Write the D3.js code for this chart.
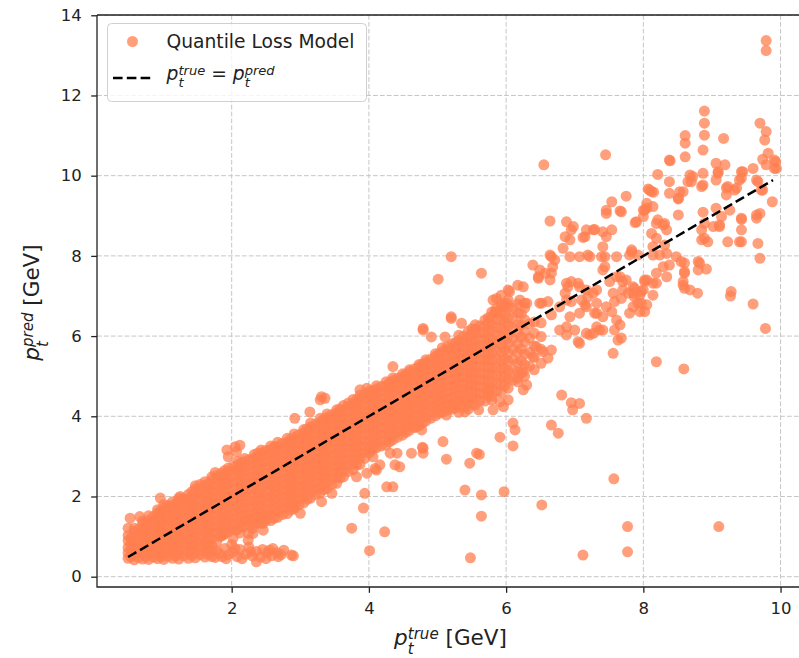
<!DOCTYPE html>
<meta charset="utf-8">

<!-- Load d3.js -->
<script src="https://d3js.org/d3.v7.min.js"></script>

<style>
  body { margin: 0; background: #fff; }
</style>

<!-- Create a div where the graph will take place -->
<div id="my_dataviz"></div>

<script>
    // ---- values: [p_t true, p_t pred] in GeV ----
    var xTicks = [2, 4, 6, 8, 10];
    var yTicks = [0, 2, 4, 6, 8, 10, 12, 14];
    var diagEnds = [0.49, 9.89];   // p_t^true = p_t^pred reference line

    // dense core of the scatter, one column per true-p_t slice: [x, [pred values]]
    var bandColumns = [
      [0.49, [0.46,0.6,0.73,0.9,1.03]],
      [0.58, [0.42,0.55,0.71,0.84,0.99,1.12,1.21]],
      [0.70, [0.44,0.58,0.7,0.87,1.01,1.14,1.3,1.39]],
      [0.79, [0.43,0.56,0.72,0.85,0.98,1.15,1.27,1.41,1.52]],
      [0.92, [0.45,0.57,0.74,0.87,1.03,1.16,1.32,1.45,1.59,1.67]],
      [1.01, [0.43,0.58,0.7,0.86,1.01,1.13,1.3,1.43,1.58,1.71,1.8]],
      [1.14, [0.46,0.59,0.75,0.88,1.05,1.17,1.34,1.47,1.63,1.76,1.87]],
      [1.23, [0.44,0.57,0.73,0.86,1.03,1.15,1.32,1.45,1.61,1.74,1.88,1.96]],
      [1.37, [0.46,0.62,0.75,0.91,1.04,1.21,1.33,1.5,1.63,1.79,1.92,2.05]],
      [1.47, [0.47,0.6,0.76,0.89,1.05,1.18,1.35,1.47,1.64,1.77,1.93,2.06,2.19,2.27]],
      [1.61, [0.49,0.63,0.79,0.92,1.09,1.21,1.38,1.51,1.67,1.8,1.97,2.09,2.26,2.37]],
      [1.71, [0.5,0.65,0.78,0.95,1.08,1.25,1.38,1.55,1.68,1.85,1.98,2.15,2.27,2.41,2.49]],
      [1.85, [1.02,1.17,1.29,1.46,1.59,1.76,1.89,2.06,2.19,2.36,2.47,2.58]],
      [1.95, [1.12,1.25,1.42,1.55,1.72,1.85,2.01,2.14,2.31,2.44,2.61,2.71]],
      [2.09, [1.2,1.35,1.48,1.65,1.78,1.95,2.07,2.24,2.37,2.54,2.66,2.79,2.88]],
      [2.19, [1.26,1.41,1.54,1.71,1.84,2.01,2.14,2.31,2.44,2.61,2.73,2.87,2.95]],
      [2.33, [1.3,1.46,1.59,1.76,1.89,2.06,2.19,2.36,2.49,2.66,2.79,2.96,3.05]],
      [2.43, [1.33,1.48,1.61,1.78,1.91,2.08,2.21,2.38,2.51,2.68,2.81,2.98,3.09,3.16]],
      [2.57, [1.4,1.56,1.69,1.86,1.99,2.16,2.29,2.46,2.59,2.76,2.89,3.06,3.17,3.26]],
      [2.67, [1.48,1.63,1.76,1.93,2.06,2.23,2.36,2.53,2.66,2.83,2.96,3.13,3.25,3.35]],
      [2.81, [1.57,1.73,1.86,2.03,2.16,2.33,2.46,2.63,2.76,2.93,3.06,3.23,3.35,3.45]],
      [2.91, [1.69,1.86,1.99,2.16,2.29,2.46,2.59,2.76,2.89,3.06,3.19,3.36,3.47,3.56]],
      [3.05, [1.84,1.99,2.12,2.29,2.42,2.59,2.72,2.89,3.02,3.19,3.32,3.49,3.59,3.67]],
      [3.15, [1.96,2.13,2.26,2.43,2.56,2.73,2.86,3.03,3.16,3.33,3.46,3.63,3.73,3.83]],
      [3.29, [2.08,2.23,2.36,2.53,2.66,2.83,2.96,3.13,3.26,3.43,3.56,3.73,3.85,3.95]],
      [3.39, [2.2,2.36,2.49,2.66,2.79,2.96,3.09,3.26,3.39,3.56,3.69,3.86,3.97,4.06]],
      [3.53, [2.33,2.48,2.61,2.78,2.91,3.08,3.21,3.38,3.51,3.68,3.81,3.98,4.09,4.16]],
      [3.63, [2.49,2.66,2.79,2.96,3.09,3.26,3.39,3.56,3.69,3.86,3.99,4.15,4.27]],
      [3.77, [2.67,2.83,2.96,3.13,3.26,3.43,3.56,3.73,3.86,4.03,4.16,4.31,4.42]],
      [3.87, [2.8,2.96,3.09,3.26,3.39,3.56,3.69,3.86,3.99,4.16,4.29,4.44,4.53]],
      [4.01, [3.09,3.22,3.39,3.52,3.69,3.82,3.99,4.12,4.29,4.42,4.56,4.63]],
      [4.11, [3.21,3.34,3.51,3.64,3.81,3.94,4.11,4.24,4.41,4.54,4.68,4.76]],
      [4.25, [3.28,3.41,3.58,3.71,3.88,4.01,4.18,4.31,4.48,4.61,4.77,4.86]],
      [4.35, [3.41,3.54,3.71,3.84,4.01,4.14,4.31,4.44,4.61,4.74,4.89,4.96]],
      [4.49, [3.53,3.66,3.83,3.96,4.13,4.26,4.43,4.56,4.73,4.86,4.99,5.06]],
      [4.59, [3.65,3.78,3.95,4.08,4.25,4.38,4.55,4.68,4.85,4.98,5.11,5.16]],
      [4.73, [3.76,3.89,4.06,4.19,4.36,4.49,4.66,4.79,4.96,5.09,5.23,5.29]],
      [4.83, [3.88,4.01,4.18,4.31,4.48,4.61,4.78,4.91,5.08,5.21,5.35,5.41]],
      [4.97, [4.01,4.14,4.31,4.44,4.61,4.74,4.91,5.04,5.21,5.34,5.49,5.56]],
      [5.07, [4.11,4.24,4.41,4.54,4.71,4.84,5.01,5.14,5.31,5.44,5.61,5.71]],
      [5.21, [4.18,4.31,4.48,4.61,4.78,4.91,5.08,5.21,5.38,5.51,5.68,5.8]],
      [5.31, [4.1,4.26,4.39,4.56,4.69,4.86,4.99,5.16,5.29,5.46,5.59,5.76,5.89,6.02]],
      [5.45, [4.18,4.34,4.47,4.64,4.77,4.94,5.07,5.24,5.37,5.54,5.67,5.84,5.97,6.12]],
      [5.55, [4.28,4.45,4.59,4.77,4.91,5.09,5.23,5.41,5.55,5.73,5.87,6.05,6.17,6.28]],
      [5.69, [4.38,4.56,4.71,4.9,5.05,5.24,5.39,5.58,5.73,5.92,6.07,6.26,6.4]],
      [5.79, [4.5,4.69,4.85,5.05,5.21,5.41,5.57,5.77,5.93,6.13,6.29,6.48,6.6]],
      [5.93, [4.6,4.81,4.99,5.21,5.39,5.61,5.79,6.01,6.19,6.41,6.59,6.8]],
      [6.03, [4.7,4.93,5.13,5.37,5.57,5.81,6.01,6.25,6.45,6.71,6.9]],
      [6.17, [4.86,5.11,5.33,5.59,5.81,6.07,6.29,6.57,6.8]],
      [6.27, [5.0,5.29,5.55,5.85,6.11,6.41,6.7]],
      [6.41, [5.16,5.47,5.75,6.07,6.35]],
      [6.51, [5.32,5.67,5.99,6.33]]
    ];

    // second pass over the core, between the slices above
    var bandColumnsB = [
      [0.53, [0.5,0.66,0.81,0.96]],
      [0.64, [0.48,0.62,0.77,0.92,1.06,1.18]],
      [0.75, [0.5,0.64,0.79,0.93,1.08,1.22,1.34]],
      [0.86, [0.49,0.65,0.8,0.95,1.09,1.24,1.38,1.5]],
      [0.96, [0.5,0.65,0.8,0.95,1.1,1.24,1.38,1.52,1.64]],
      [1.07, [0.51,0.66,0.81,0.95,1.1,1.25,1.4,1.54,1.68,1.78]],
      [1.18, [0.52,0.67,0.82,0.96,1.11,1.26,1.4,1.55,1.7,1.82]],
      [1.30, [0.52,0.66,0.81,0.95,1.1,1.25,1.4,1.54,1.69,1.83,1.95]],
      [1.42, [0.53,0.68,0.83,0.98,1.12,1.27,1.42,1.57,1.71,1.86,2.0,2.12]],
      [1.54, [0.55,0.7,0.85,1.0,1.15,1.3,1.44,1.59,1.74,1.88,2.03,2.17,2.3]],
      [1.66, [0.56,0.71,0.86,1.01,1.16,1.31,1.46,1.61,1.75,1.9,2.05,2.2,2.33]],
      [1.78, [0.85,1.1,1.24,1.39,1.53,1.68,1.83,1.98,2.12,2.27,2.42,2.52]],
      [1.90, [1.08,1.23,1.38,1.52,1.67,1.82,1.97,2.11,2.26,2.41,2.55,2.65]],
      [2.02, [1.17,1.32,1.46,1.61,1.76,1.91,2.05,2.2,2.35,2.5,2.64,2.75]],
      [2.14, [1.24,1.39,1.53,1.68,1.83,1.98,2.13,2.28,2.42,2.57,2.72,2.84]],
      [2.26, [1.3,1.44,1.59,1.74,1.89,2.04,2.19,2.34,2.48,2.63,2.78,2.92]],
      [2.38, [1.34,1.49,1.64,1.79,1.94,2.09,2.24,2.39,2.53,2.68,2.83,2.98,3.08]],
      [2.50, [1.4,1.54,1.69,1.84,1.99,2.14,2.29,2.44,2.58,2.73,2.88,3.03,3.15]],
      [2.62, [1.46,1.61,1.76,1.91,2.06,2.21,2.36,2.5,2.65,2.8,2.95,3.1,3.24]],
      [2.74, [1.55,1.7,1.85,2.0,2.15,2.3,2.45,2.6,2.74,2.89,3.04,3.19,3.33]],
      [2.86, [1.66,1.81,1.96,2.11,2.26,2.41,2.56,2.7,2.85,3.0,3.15,3.3,3.43]],
      [2.98, [1.79,1.94,2.09,2.24,2.39,2.54,2.69,2.83,2.98,3.13,3.28,3.43,3.54]],
      [3.10, [1.93,2.08,2.23,2.38,2.52,2.67,2.82,2.97,3.12,3.26,3.41,3.56,3.68]],
      [3.22, [2.05,2.2,2.35,2.5,2.65,2.79,2.94,3.09,3.24,3.39,3.54,3.68,3.8]],
      [3.34, [2.17,2.32,2.47,2.62,2.77,2.92,3.06,3.21,3.36,3.51,3.66,3.8,3.92]],
      [3.46, [2.3,2.45,2.6,2.74,2.89,3.04,3.19,3.34,3.49,3.63,3.78,3.93,4.04]],
      [3.58, [2.46,2.61,2.76,2.91,3.06,3.2,3.35,3.5,3.65,3.8,3.94,4.09,4.18]],
      [3.70, [2.62,2.77,2.92,3.07,3.22,3.37,3.51,3.66,3.81,3.96,4.11,4.25,4.33]],
      [3.82, [2.78,2.93,3.08,3.23,3.37,3.52,3.67,3.82,3.97,4.12,4.27,4.41]],
      [3.94, [2.95,3.1,3.25,3.4,3.55,3.7,3.84,3.99,4.14,4.29,4.44,4.54]],
      [4.06, [3.18,3.32,3.47,3.62,3.77,3.92,4.07,4.21,4.36,4.51,4.64]],
      [4.18, [3.26,3.41,3.56,3.71,3.86,4.01,4.15,4.3,4.45,4.6,4.74]],
      [4.30, [3.36,3.51,3.66,3.81,3.96,4.11,4.26,4.4,4.55,4.7,4.84]],
      [4.42, [3.48,3.63,3.78,3.93,4.07,4.22,4.37,4.52,4.67,4.82,4.95]],
      [4.54, [3.6,3.75,3.9,4.05,4.2,4.35,4.49,4.64,4.79,4.94,5.05]],
      [4.66, [3.72,3.87,4.02,4.17,4.31,4.46,4.61,4.76,4.91,5.06,5.18]],
      [4.78, [3.83,3.98,4.13,4.28,4.43,4.58,4.72,4.87,5.02,5.17,5.3]],
      [4.90, [3.95,4.1,4.25,4.4,4.55,4.7,4.85,5.0,5.15,5.3,5.42]],
      [5.02, [4.07,4.22,4.37,4.52,4.67,4.82,4.97,5.12,5.27,5.42,5.56]],
      [5.14, [4.15,4.3,4.45,4.6,4.75,4.9,5.05,5.2,5.35,5.5,5.64,5.74]],
      [5.26, [4.2,4.35,4.5,4.65,4.8,4.95,5.1,5.25,5.4,5.55,5.7,5.84]],
      [5.38, [4.22,4.38,4.53,4.68,4.83,4.98,5.13,5.28,5.43,5.58,5.73,5.88,6.0]],
      [5.50, [4.3,4.46,4.62,4.78,4.94,5.1,5.26,5.42,5.58,5.74,5.9,6.06,6.18]],
      [5.62, [4.4,4.57,4.74,4.91,5.08,5.25,5.42,5.59,5.76,5.93,6.1,6.26]],
      [5.74, [4.52,4.7,4.88,5.06,5.24,5.42,5.6,5.78,5.96,6.14,6.32,6.46]],
      [5.86, [4.62,4.82,5.02,5.22,5.42,5.62,5.82,6.02,6.22,6.42,6.6]],
      [5.98, [4.75,4.98,5.2,5.43,5.66,5.88,6.11,6.34,6.56,6.76]],
      [6.10, [4.9,5.16,5.42,5.68,5.94,6.2,6.46,6.7]],
      [6.22, [5.08,5.38,5.68,5.98,6.28,6.56]],
      [6.34, [5.25,5.6,5.95,6.3]]
    ];

    // low-pred clump under the band at small p_t
    var lowCluster = [
      [1.76,0.48],[1.78,0.64],[1.86,0.5],[1.9,0.7],[1.95,0.55],[2.02,0.62],[2.0,0.8],[2.08,0.5],
      [2.12,0.68],[2.2,0.56],[2.25,0.74],[2.3,0.52],[2.36,0.63],[2.42,0.49],[2.45,0.68],[2.52,0.6],
      [2.58,0.52],[2.6,0.7],[2.66,0.6],[2.72,0.55],[2.76,0.66],[2.15,0.45],[1.92,0.45],[2.5,0.45],
      [2.36,0.37],[2.87,0.54],[1.82,0.58],[2.05,0.7],[2.28,0.62],[2.55,0.66],[2.68,0.5]
    ];

    // points under the band (under-predicted)
    var lowerScatter = [
      [2.24,1.08],[2.31,1.21],[2.24,1.41],[2.46,1.33],[2.51,1.54],[2.46,1.16],[2.02,0.96],[2.07,1.16],
      [1.83,1.0],[1.88,1.04],[2.12,1.09],[2.24,0.91],[2.31,1.08],[2.92,1.75],[3.0,1.58],[3.31,1.87],
      [3.46,2.08],[3.75,1.21],[3.92,1.71],[3.94,2.08],[4.01,0.65],[4.23,1.12],[4.26,2.24],[4.09,2.7],
      [3.97,2.58],[4.38,2.79],[3.82,2.49],[4.11,2.66],[4.35,2.24],[4.01,3.16],[4.06,2.99],[4.16,2.79],
      [4.31,3.08],[4.41,3.08],[4.62,3.08],[4.79,3.2],[4.79,3.08],[4.45,2.74],[4.78,3.23],[4.69,3.74],
      [4.77,3.66],[5.08,3.37],[5.13,2.93],[5.13,4.03],[5.4,4.11],[5.6,4.16],[5.18,4.24],[5.37,4.41],
      [5.47,2.83],[5.57,3.08],[5.61,3.05],[5.4,2.16],[5.64,2.04],[5.64,1.51],[5.97,2.12],[6.52,1.79],
      [5.91,3.48],[6.1,3.83],[6.13,3.66],[6.1,3.26],[6.03,4.41],[5.91,4.36],[5.81,4.16],[5.96,4.24],
      [5.79,4.41],[5.74,4.61],[6.25,4.66],[6.3,4.78],[6.17,4.95],[6.25,5.11],[6.81,4.53],[6.95,4.34],
      [7.07,4.32],[6.97,4.16],[7.17,3.95],[6.66,3.78],[6.76,3.58],[7.57,2.44],[7.77,1.25],[7.77,0.62],
      [7.12,0.54],[5.48,0.47],[9.1,1.25],[6.61,5.45],[6.66,5.65],[6.39,5.49],[6.44,5.74],[6.54,5.61],
      [6.78,6.15],[6.88,6.03],[7.22,6.03],[7.36,6.15],[7.07,5.82],[2.9,0.52],[8.19,5.36],[8.59,5.18]
    ];

    // points above the band and the spread at medium p_t
    var upperScatter = [
      [0.49,1.21],[0.66,1.5],[0.52,1.46],[0.96,1.96],[1.25,2.0],[1.76,2.6],[1.95,2.99],[2.05,3.24],
      [2.12,3.28],[1.93,3.16],[2.07,3.12],[2.92,3.95],[3.14,4.11],[3.29,4.41],[3.31,4.49],[3.36,4.45],
      [3.87,4.66],[3.97,4.7],[4.35,5.24],[4.79,6.15],[4.91,5.98],[5.11,5.98],[5.2,6.48],[5.35,6.32],
      [4.79,6.19],[5.2,6.44],[5.01,7.42],[5.2,7.98],[5.64,7.57],[5.84,6.61],[5.86,6.94],[6.03,7.15],
      [6.17,7.27],[6.27,6.82],[6.39,7.77],[6.47,7.44],[6.49,6.82],[6.61,6.86],[6.66,7.98],[6.68,7.73],
      [6.66,7.57],[5.81,6.9],[5.86,6.69],[6.01,6.82],[5.93,7.02],[6.05,7.11],[6.25,7.23],[6.2,6.9],
      [6.3,6.82],[5.95,6.75],[6.64,8.02],[6.71,7.9],[6.49,7.65],[6.47,7.48],[6.64,7.4],[6.57,7.57],
      [6.52,6.82],[6.66,6.53],[6.78,6.73],[6.88,6.9],[6.9,7.23],[6.95,7.36],[7.07,7.23],[7.1,6.9],
      [7.19,6.98],[7.27,7.07],[7.32,6.82],[7.17,6.73],[7.29,6.57],[7.07,6.57],[6.93,6.48],[6.88,6.23],
      [7.0,6.15],[7.05,5.86],[7.17,6.07],[7.32,6.23],[7.41,6.48],[7.46,6.73],[7.54,6.61],[7.61,6.4],
      [7.58,6.15],[7.63,5.9],[7.56,5.57],[7.41,6.15],[7.27,6.07],[6.88,7.32],[7.05,7.32],[7.17,7.15],
      [7.32,7.15],[7.58,6.86],[7.32,6.57],[7.15,6.78],[6.95,6.86],[6.86,7.07],[6.55,10.27],[6.64,8.87],
      [6.88,8.85],[6.98,8.73],[6.86,8.48],[6.93,8.4],[6.83,8.19],[6.93,7.98],[7.07,7.98],[7.19,8.02],
      [7.15,8.48],[7.17,8.65],[7.29,8.66],[7.41,8.6],[7.54,8.65],[7.46,8.48],[7.41,8.23],[7.61,7.98],
      [7.44,7.98],[7.44,7.73],[7.61,7.48],[7.12,8.46],[7.27,8.65],[6.95,8.65],[7.22,7.98],[7.39,7.98]
    ];

    // sparse tail at high p_t
    var highTail = [
      [9.79,13.37],[9.79,13.12],[8.89,11.61],[8.89,11.31],[8.89,11.01],[8.87,10.64],[8.61,11.0],[8.61,10.81],
      [8.61,10.47],[9.17,10.93],[9.7,11.31],[9.79,11.1],[9.77,10.89],[9.82,10.56],[9.74,10.41],[9.93,10.35],
      [9.94,10.18],[9.79,10.27],[8.39,10.37],[8.21,10.03],[9.06,10.31],[9.19,10.27],[9.09,10.1],[8.68,10.02],
      [8.87,10.06],[8.85,9.73],[8.65,9.85],[8.58,9.6],[8.38,9.85],[8.38,9.56],[8.51,9.42],[9.6,10.18],
      [9.43,10.1],[9.4,9.89],[9.23,9.73],[9.33,9.64],[9.67,9.85],[9.74,9.64],[9.88,9.35],[8.07,9.67],
      [8.15,9.59],[7.75,9.49],[7.54,9.35],[7.46,9.14],[7.66,9.12],[8.02,9.14],[8.14,9.23],[8.51,9.02],
      [8.87,9.09],[9.43,8.91],[9.7,9.06],[9.65,8.94],[7.45,10.52],[7.46,9.06],[7.9,8.85],[8.0,9.14],
      [8.05,9.31],[8.12,9.6],[8.19,8.81],[8.12,8.56],[7.88,8.83],[8.31,8.81],[8.34,8.65],[8.14,8.23],
      [7.83,8.15],[7.92,8.02],[8.85,8.65],[8.85,8.4],[8.94,8.35],[9.02,8.73],[9.11,8.73],[9.06,9.19],
      [9.26,9.14],[9.43,8.65],[9.4,8.35],[9.23,8.35],[9.67,8.31],[9.7,7.94],[9.6,6.8],[9.28,7.11],
      [9.27,7.0],[9.78,6.19],[8.79,7.07],[8.68,7.15],[8.58,7.27],[8.6,7.57],[8.82,7.82],[8.8,7.65],
      [8.92,7.67],[8.6,7.82],[8.48,7.98],[8.34,8.06],[8.29,7.73],[8.34,7.48],[8.19,7.57],[8.02,7.4],
      [8.0,7.15],[8.14,7.32],[8.14,7.02],[8.02,6.61],[7.92,6.82],[7.85,7.07],[7.8,6.57],[7.7,7.15],
      [7.56,7.07],[7.66,7.48],[7.51,7.36],[7.41,7.65],[7.75,7.4],[7.85,7.23],[7.78,7.07],[7.87,6.98],
      [7.97,7.11],[8.05,7.4],[8.19,7.32],[7.97,6.82],[7.85,6.73],[7.95,6.61],[7.68,9.1],[7.83,8.1],
      [8.89,8.81],[8.89,8.44],[9.11,8.77],[9.14,8.98],[9.21,9.69],[9.21,9.52],[9.36,9.69],[9.43,9.94],
      [9.45,10.1],[9.65,9.89],[9.72,9.64],[9.09,10.06],[9.06,9.89],[8.87,9.77],[8.72,9.98],[8.7,9.85],
      [8.53,9.6],[8.51,9.44],[8.38,10.39],[8.09,9.64],[8.05,9.19],[8.0,8.98],[8.21,8.9],[8.29,8.77],
      [8.19,8.44],[8.31,8.27],[8.24,8.02],[8.14,8.02],[8.38,7.77],[8.55,7.86],[8.6,7.61],[8.58,7.36],
      [8.6,7.19],[8.8,7.86],[7.87,7.19],[8.02,7.36],[7.95,7.02],[8.05,6.78],[7.68,6.94],[7.7,7.36],
      [7.8,8.02],[7.66,6.28],[7.68,5.95],[9.43,8.94],[9.43,8.35],[9.65,9.02],[9.91,10.18],[9.91,10.39]
    ];

    // ---- layout ----
    var FONT = "'DejaVu Sans', sans-serif";
    var coral = "#ff7f50";
    var margin = {top: 15, left: 97},
        width = 711,
        height = 572;

    var svg = d3.select("#my_dataviz")
      .append("svg")
        .attr("width", 799)
        .attr("height", 658)
        .style("font-family", FONT);

    var g = svg.append("g")
        .attr("transform", "translate(" + margin.left + "," + margin.top + ")");

    var x = d3.scaleLinear().domain([0.037, 10.4]).range([0, width]);
    var y = d3.scaleLinear().domain([-0.257, 14.007]).range([height, 0]);

    // dashed grid, under the points
    var grid = g.append("g")
        .attr("stroke", "#c6c6c6")
        .attr("stroke-width", 1)
        .attr("stroke-dasharray", "4.8,2.1");
    grid.selectAll(".gx").data(xTicks).enter().append("line")
        .attr("x1", d => x(d)).attr("x2", d => x(d))
        .attr("y1", 0).attr("y2", height);
    grid.selectAll(".gy").data(yTicks).enter().append("line")
        .attr("x1", 0).attr("x2", width)
        .attr("y1", d => y(d)).attr("y2", d => y(d));

    // flatten all scatter groups
    var points = [];
    bandColumns.concat(bandColumnsB).forEach(function(c) {
      c[1].forEach(function(v) { points.push([c[0], v]); });
    });
    points = points.concat(lowCluster, lowerScatter, upperScatter, highTail);

    g.append("g").selectAll("circle")
      .data(points)
      .enter().append("circle")
        .attr("cx", d => x(d[0]))
        .attr("cy", d => y(d[1]))
        .attr("r", 5.5)
        .attr("fill", coral)
        .attr("fill-opacity", 0.75);

    // reference diagonal
    g.append("line")
        .attr("x1", x(diagEnds[0])).attr("y1", y(diagEnds[0]))
        .attr("x2", x(diagEnds[1])).attr("y2", y(diagEnds[1]))
        .attr("stroke", "#000")
        .attr("stroke-width", 2.5)
        .attr("stroke-dasharray", "9.6,4.2");

    // axes
    var xAxis = g.append("g")
        .attr("transform", "translate(0," + height + ")")
        .call(d3.axisBottom(x).tickValues(xTicks).tickSize(5.8).tickPadding(9).tickFormat(d3.format("d")));
    var yAxis = g.append("g")
        .call(d3.axisLeft(y).tickValues(yTicks).tickSize(5.8).tickPadding(9.4).tickFormat(d3.format("d")));

    [xAxis, yAxis].forEach(function(a) {
      a.select(".domain").remove();
      a.selectAll(".tick line").attr("stroke", "#222").attr("stroke-width", 1.3);
      a.selectAll(".tick text")
        .attr("fill", "#222")
        .style("font-family", FONT)
        .style("font-size", "16.5px");
    });

    // spines (left, bottom, top; the right one falls outside the picture)
    var spines = g.append("g").attr("stroke", "#222").attr("stroke-width", 1.3).attr("fill", "none");
    spines.append("path").attr("d", "M0,0V" + height + "H" + width);
    spines.append("path").attr("d", "M0,0H" + width);

    // ---- math-ish labels: base with stacked super/subscript ----
    function mathText(parent, pieces, size) {
      var t = parent.append("text")
          .attr("font-size", size)
          .attr("fill", "#222")
          .style("white-space", "pre");
      var carry = 0, lift = 0;
      pieces.forEach(function(p) {
        if (typeof p === "string") {
          t.append("tspan").attr("dx", carry).attr("dy", -lift).text(p);
          carry = 0; lift = 0;
          return;
        }
        t.append("tspan").attr("dx", carry).attr("dy", -lift)
            .attr("font-style", "italic").text(p.base);
        var up = size * 0.28, down = size * 0.4;
        var sup = t.append("tspan").attr("font-style", "italic")
            .attr("font-size", size * 0.7).attr("dy", -up).text(p.sup);
        var sub = t.append("tspan").attr("font-style", "italic")
            .attr("font-size", size * 0.7).attr("dy", up + down).text(p.sub);
        var w1 = sup.node().getComputedTextLength(),
            w2 = sub.node().getComputedTextLength();
        sub.attr("dx", -w1);
        carry = Math.max(0, w1 - w2);
        lift = down;
      });
      return t;
    }

    // x label
    var xl = mathText(svg.append("g"), [{base: "p", sup: "true", sub: "t"}, " [GeV]"], 21.5);
    var xw = xl.node().getBBox().width;
    xl.attr("x", 451 - xw / 2).attr("y", 645);

    // y label (rotated)
    var yg = svg.append("g").attr("transform", "translate(39,302) rotate(-90)");
    var yl = mathText(yg, [{base: "p", sup: "pred", sub: "t"}, " [GeV]"], 21.5);
    var yw = yl.node().getBBox().width;
    yl.attr("x", -yw / 2).attr("y", 0);

    // ---- legend ----
    var legend = svg.append("g");
    legend.append("rect")
        .attr("x", 107.5).attr("y", 23.5)
        .attr("width", 259).attr("height", 78)
        .attr("rx", 4)
        .attr("fill", "#fff").attr("fill-opacity", 0.8)
        .attr("stroke", "#d0d0d0").attr("stroke-width", 1);
    legend.append("circle")
        .attr("cx", 132.5).attr("cy", 41.5).attr("r", 5.5)
        .attr("fill", coral).attr("fill-opacity", 0.75);
    legend.append("text")
        .attr("x", 166.5).attr("y", 47.5)
        .attr("font-size", 18.7)
        .attr("fill", "#222")
        .text("Quantile Loss Model");
    legend.append("line")
        .attr("x1", 113).attr("x2", 151)
        .attr("y1", 78).attr("y2", 78)
        .attr("stroke", "#000").attr("stroke-width", 2.5)
        .attr("stroke-dasharray", "9.6,4.2");
    var lt = mathText(legend, [{base: "p", sup: "true", sub: "t"}, " = ", {base: "p", sup: "pred", sub: "t"}], 18.7);
    lt.attr("x", 166.5).attr("y", 80);
</script>
